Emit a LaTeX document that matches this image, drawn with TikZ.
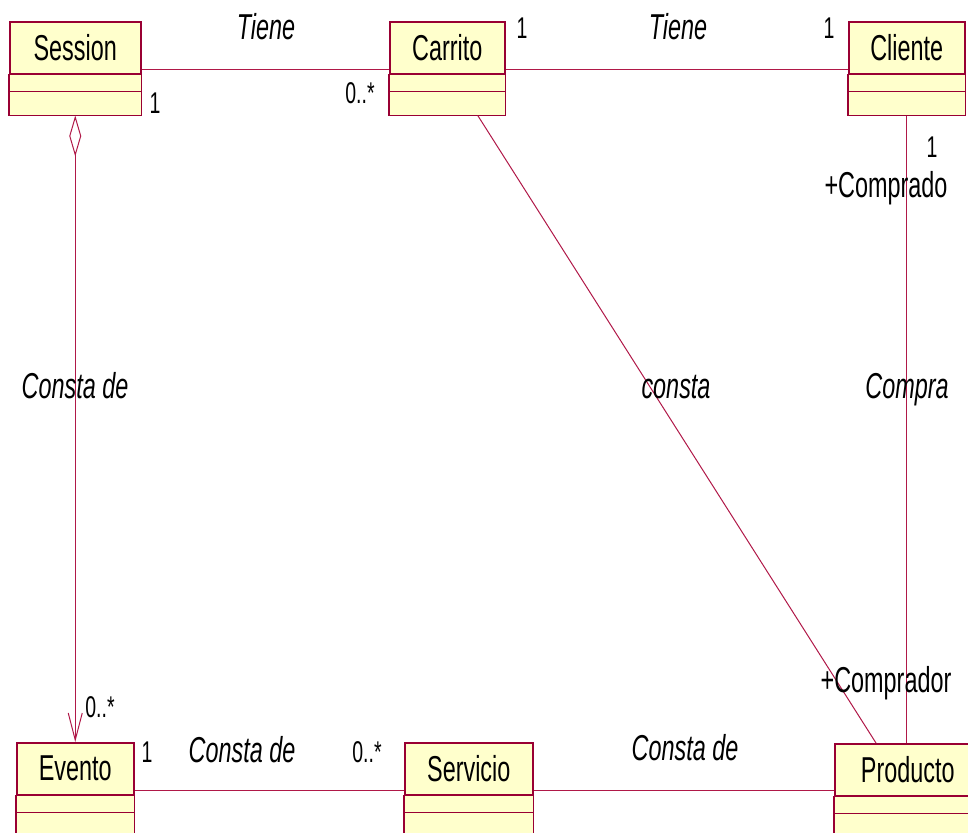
\documentclass[tikz,border=0pt]{standalone}
\usepackage{fontspec}
\setmainfont{Liberation Sans}[FakeStretch=0.65]
\usepackage{tikz}
\usetikzlibrary{positioning,calc,arrows.meta}

\definecolor{umlborder}{RGB}{153,0,51}
\definecolor{umlline}{RGB}{176,24,72}
\definecolor{umlfill}{RGB}{255,255,204}

\begin{document}
\begin{tikzpicture}[
    x=0.5pt, y=-0.5pt,
    class/.style={rectangle, draw=umlborder, fill=umlfill, line width=0.75pt, inner sep=0pt, minimum height=26pt, anchor=north west, font=\fontsize{18}{20}\selectfont},
    compartment/.style={draw=umlborder, fill=umlfill, line width=0.75pt},
    line/.style={draw=umlline, line width=0.5pt},
    mult/.style={anchor=base, inner sep=0pt, font=\fontsize{15}{17}\selectfont},
    role/.style={anchor=base, inner sep=0pt, font=\fontsize{18}{20}\selectfont\itshape},
    rolename/.style={anchor=base, inner sep=0pt, font=\fontsize{18}{20}\selectfont}
]
    \useasboundingbox (0,0) rectangle (968,832);
    \clip (0,0) rectangle (968,832);

    % classes
    \node [class, minimum width=65.5pt] (session) at (9,21) {Session};
    \node [class, minimum width=57.5pt] (carrito) at (389,21) {Carrito};
    \node [class, minimum width=58pt] (cliente) at (848,21) {Cliente};
    \node [class, minimum width=58.5pt] (evento) at (16,742) {Evento};
    \node [class, minimum width=64pt] (servicio) at (404,742) {Servicio};
    \node [class, minimum width=73pt] (producto) at (834,743) {Producto};

    \foreach \c in {session,carrito,cliente,evento,servicio,producto} {
        \draw [compartment] (\c.south west) rectangle ([yshift=-8.5pt]\c.south east);
        \draw [compartment] ([yshift=-8.5pt]\c.south west) rectangle ([yshift=-20.5pt]\c.south east);
        \coordinate (\c-bottom) at ([yshift=-20.5pt]\c.south);
    }

    % associations
    \draw [line] ([yshift=2.5pt]session.south east) -- ([yshift=2.5pt]carrito.south west);
    \draw [line] ([yshift=2.5pt]carrito.south east) -- ([yshift=2.5pt]cliente.south west);
    \draw [line] ([yshift=2.5pt]evento.south east) -- ([yshift=2.5pt]servicio.south west);
    \draw [line] ([yshift=2.5pt]servicio.south east) -- ([yshift=3pt]producto.south west);
    \draw [line, {Diamond[open, length=20.5pt, width=6pt]}-{Straight Barb[length=13.5pt, width=7pt]}] (session-bottom) -- (evento.north);
    \draw [line] ([xshift=15.25pt]carrito-bottom) -- ([xshift=21pt]producto.north west);
    \draw [line] (cliente-bottom) -- (cliente-bottom |- producto.north);

    % labels
    \node [role] (tiene1) at (266,39) {Tiene};
    \node [role] (tiene2) at (678,39) {Tiene};
    \node [role] (constade1) at (75,398) {Consta de};
    \node [role] (consta) at (676,398) {consta};
    \node [role] (compra) at (907,398) {Compra};
    \node [role] (constade2) at (242,762) {Consta de};
    \node [role] (constade3) at (685,760) {Consta de};
    \node [rolename] (comprado) at (886,197) {+Comprado};
    \node [rolename] (comprador) at (886,692) {+Comprador};

    \node [mult] (m1) at (155,113) {1};
    \node [mult] (m2) at (360,103) {0..*};
    \node [mult] (m3) at (522,38) {1};
    \node [mult] (m4) at (829,38) {1};
    \node [mult] (m5) at (932,157) {1};
    \node [mult] (m6) at (100,717) {0..*};
    \node [mult] (m7) at (147,762) {1};
    \node [mult] (m8) at (367,762) {0..*};
\end{tikzpicture}
\end{document}
